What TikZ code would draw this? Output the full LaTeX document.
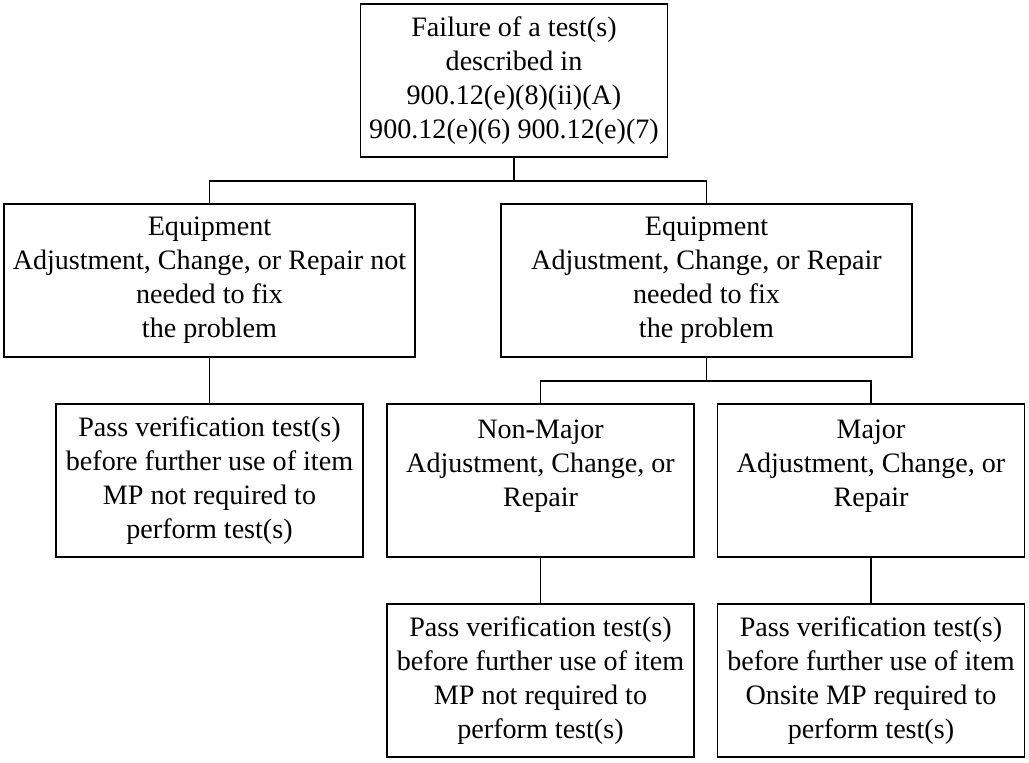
\documentclass[tikz,border=0pt]{standalone}
\usepackage{fontspec}
\setmainfont{Liberation Serif}
\usetikzlibrary{positioning,calc}

\begin{document}
\begin{tikzpicture}[
    x=0.02cm, y=-0.02cm,
    font=\fontsize{16}{19.35}\selectfont,
    box/.style={
        draw=black,
        line width=0.8pt,
        align=center,
        minimum width=6.14cm,
        minimum height=3.06cm,
        inner sep=2pt
    },
    widebox/.style={box, minimum width=8.22cm},
    link/.style={line width=0.8pt}
]

% Stable crop.
\path[use as bounding box] (0,0) rectangle (1029,762);

% --------------------------------------------------
% Top of the tree
% --------------------------------------------------
\node[box] (fail) at (514,80.5) {Failure of a test(s)\\described in\\900.12(e)(8)(ii)(A)\\900.12(e)(6) 900.12(e)(7)};

% --------------------------------------------------
% Second level
% --------------------------------------------------
\node[widebox] (notneeded) at (209.5,280.5) {Equipment\\Adjustment, Change, or Repair not\\needed to fix\\the problem};
\node[widebox] (needed) at (706.5,280.5) {Equipment\\Adjustment, Change, or Repair\\needed to fix\\the problem};

% --------------------------------------------------
% Third level
% --------------------------------------------------
\node[box] (passa) at (209.5,480.5) {Pass verification test(s)\\before further use of item\\MP not required to\\perform test(s)};
\node[box] (nonmajor) at (540.5,480.5) {Non-Major\\Adjustment, Change, or\\Repair\\\mbox{}};
\node[box] (major) at (871,480.5) {Major\\Adjustment, Change, or\\Repair\\\mbox{}};

% --------------------------------------------------
% Bottom level
% --------------------------------------------------
\node[box] (passb) at (540.5,680.5) {Pass verification test(s)\\before further use of item\\MP not required to\\perform test(s)};
\node[box] (passc) at (871,680.5) {Pass verification test(s)\\before further use of item\\Onsite MP required to\\perform test(s)};

% Helper coordinates for the split bars.
\coordinate (bar1) at (514,181);
\coordinate (bar2) at (706.5,381);

% --------------------------------------------------
% Connectors
% --------------------------------------------------
\draw[link] (fail.south) -- (bar1);
\draw[link] (notneeded.north) |- (bar1) -| (needed.north);

\draw[link] (notneeded.south) -- (passa.north);

\draw[link] (needed.south) -- (bar2);
\draw[link] (nonmajor.north) |- (bar2) -| (major.north);

\draw[link] (nonmajor.south) -- (passb.north);
\draw[link] (major.south) -- (passc.north);

\end{tikzpicture}
\end{document}
